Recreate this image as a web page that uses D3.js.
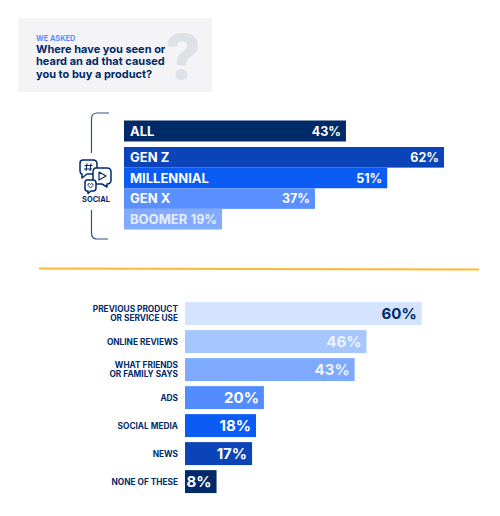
<!DOCTYPE html>
<html>
<head>
<meta charset="utf-8">
<script src="https://cdn.jsdelivr.net/npm/d3@7"></script>
<style>
html,body{margin:0;padding:0;background:#fff;}
svg{display:block;}
text{font-family:Inter,"Open Sans",sans-serif;}
</style>
</head>
<body>
<div id="chart"></div>
<script>
// Survey answers, in percent
const overallLabel = ["ALL"];
const overallValues = [43];
const generations = ["GEN Z", "MILLENNIAL", "GEN X", "BOOMER"];
const generationValues = [62, 51, 37, 19];
const sources = ["PREVIOUS PRODUCT|OR SERVICE USE", "ONLINE REVIEWS", "WHAT FRIENDS|OR FAMILY SAYS", "ADS", "SOCIAL MEDIA", "NEWS", "NONE OF THESE"];
const sourceValues = [60, 46, 43, 20, 18, 17, 8];

const navy = "#012a69";
const generationColors = ["#0a44b8", "#0a5cf5", "#5a8fff", "#82aaff"];
const sourceColors = ["#d4e3ff", "#a6c6ff", "#7daaff", "#528cff", "#0a5cf5", "#0a44b8", "#012a69"];
const sourceValueColors = [navy, "#eef4ff", "#eef4ff", "#fff", "#fff", "#fff", "#fff"];

const svg = d3.select("#chart").append("svg").attr("width", 500).attr("height", 516);

// Question panel
svg.append("rect").attr("x", 18).attr("y", 18).attr("width", 194).attr("height", 74).attr("fill", "#f4f4f6");
svg.append("text").attr("x", 183).attr("y", 79).attr("text-anchor", "middle")
  .attr("font-size", 62).attr("font-weight", 800).attr("fill", "#dde1e8").text("?");
svg.append("text").attr("x", 36).attr("y", 41).attr("font-size", 7.4).attr("font-weight", 700)
  .attr("fill", "#5a8fff").text("WE ASKED");
svg.append("g").selectAll("text")
  .data(["Where have you seen or", "heard an ad that caused", "you to buy a product?"])
  .join("text")
  .attr("x", 36).attr("y", (d, i) => 53 + i * 12.3)
  .attr("font-size", 11).attr("font-weight", 700).attr("fill", navy).text(d => d);

// Upper chart: overall bar and generation bars
const xTop = d3.scaleLinear().domain([0, 62]).range([124, 444]);
const yAll = d3.scaleBand().domain(overallLabel).range([120.5, 141.5]);
const yGen = d3.scaleBand().domain(generations).range([147, 229.5]);

function topRows(names, values, colors, y, g) {
  const row = g.selectAll("g").data(names).join("g");
  row.append("rect")
    .attr("x", xTop(0)).attr("y", d => y(d))
    .attr("width", (d, i) => xTop(values[i]) - xTop(0))
    .attr("height", y.bandwidth())
    .attr("fill", (d, i) => colors[i]);
  row.append("text")
    .attr("x", xTop(0) + 6).attr("y", d => y(d) + y.bandwidth() / 2 + 4.6)
    .attr("font-size", 13).attr("font-weight", 700)
    .attr("fill", d => d === "BOOMER" ? "#e6eeff" : "#fff").text(d => d);
  row.append("text")
    .attr("x", (d, i) => xTop(values[i]) - 5)
    .attr("y", d => y(d) + y.bandwidth() / 2 + 4.6)
    .attr("text-anchor", "end").attr("font-size", 12.5).attr("font-weight", 700)
    .attr("fill", d => d === "BOOMER" ? "#e6eeff" : "#fff")
    .text((d, i) => values[i] + "%");
}
topRows(overallLabel, overallValues, [navy], yAll, svg.append("g"));
topRows(generations, generationValues, generationColors, yGen, svg.append("g"));

// Bracket around the upper chart
svg.append("path")
  .attr("d", "M109,113H97Q91.5,113 91.5,119V153M91.5,210V233Q91.5,239 97,239H108")
  .attr("fill", "none").attr("stroke", "#34507f").attr("stroke-width", 1.2);

// Social media icon: three speech bubbles
const icon = svg.append("g").attr("fill", "#fff").attr("stroke", navy)
  .attr("stroke-width", 1.5).attr("stroke-linejoin", "round");
icon.append("path").attr("d", "M83,160H93Q97,160 97,164V170Q97,174 93,174H87L82,178V174Q80,174 80,170V163Q80,160 83,160Z");
icon.append("path").attr("d", "M96,168H107Q111,168 111,172V180Q111,184 107,184L107,187L102,184H96Q93,184 93,180V172Q93,168 96,168Z");
icon.append("path").attr("d", "M87,180H93Q96,180 96,183V188Q96,191 93,191H91L88,193.5V191H87Q85,191 85,188V183Q85,180 87,180Z");
icon.append("path").attr("d", "M99,172L106,176L99,180Z").attr("fill", "none").attr("stroke-width", 1.2);
icon.append("path").attr("d", "M87,163.5L86,171M91,163.5L90,171M84.5,165.5H92.5M84,169H92").attr("stroke-width", 1.1);
icon.append("path").attr("d", "M90.5,188L88,185.5Q87.5,183.5 89.5,183.5L90.5,184.5L91.5,183.5Q93.5,183.5 93,185.5Z").attr("fill", "none").attr("stroke-width", 0.9);
svg.append("text").attr("x", 96).attr("y", 202).attr("text-anchor", "middle")
  .attr("font-size", 7.4).attr("font-weight", 700).attr("fill", navy).text("SOCIAL");

// Divider
svg.append("line").attr("x1", 39).attr("y1", 268.5).attr("x2", 479).attr("y2", 269.5)
  .attr("stroke", "#ffb833").attr("stroke-width", 1.8);

// Lower chart: sources of trust
const xBottom = d3.scaleLinear().domain([0, 60]).range([185, 421.7]);
const yBottom = d3.scaleBand().domain(sources).range([299.6, 495.6]).paddingInner(0.18).paddingOuter(0.09);

const rows = svg.append("g").selectAll("g").data(sources).join("g");
rows.append("rect")
  .attr("x", xBottom(0)).attr("y", d => yBottom(d))
  .attr("width", (d, i) => xBottom(sourceValues[i]) - xBottom(0))
  .attr("height", yBottom.bandwidth())
  .attr("fill", (d, i) => sourceColors[i]);
rows.append("text")
  .attr("x", (d, i) => xBottom(sourceValues[i]) - 5)
  .attr("y", d => yBottom(d) + yBottom.bandwidth() / 2 + 5.4)
  .attr("text-anchor", "end").attr("font-size", 15).attr("font-weight", 700)
  .attr("fill", (d, i) => sourceValueColors[i])
  .text((d, i) => sourceValues[i] + "%");
rows.each(function (d) {
  const lines = d.split("|");
  d3.select(this).selectAll("text.cat").data(lines).join("text")
    .attr("class", "cat")
    .attr("x", 178).attr("text-anchor", "end")
    .attr("y", (l, i) => yBottom(d) + yBottom.bandwidth() / 2 + 3 + (i - (lines.length - 1) / 2) * 8.6)
    .attr("font-size", 8.3).attr("font-weight", 700).attr("fill", navy).text(l => l);
});
</script>
</body>
</html>
